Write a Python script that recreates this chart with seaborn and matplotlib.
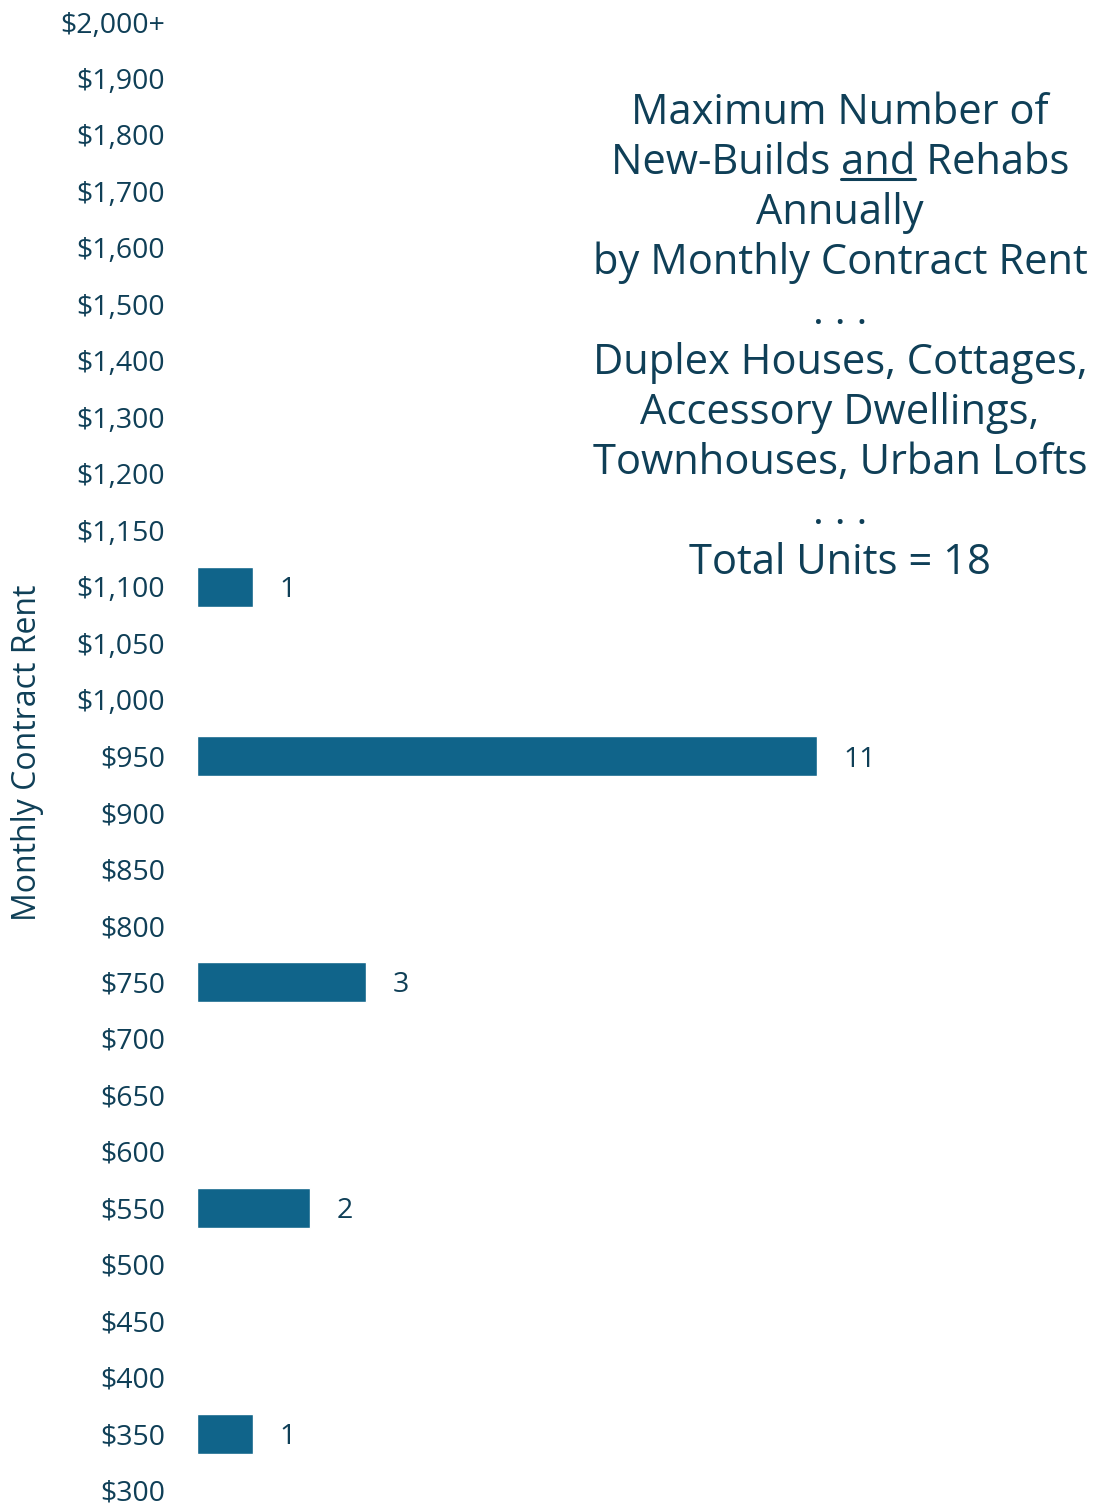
import matplotlib
matplotlib.use("Agg")
import matplotlib.pyplot as plt
import seaborn as sns
import pandas as pd

# rent bands, top to bottom
rents = ["$2,000+", "$1,900", "$1,800", "$1,700", "$1,600", "$1,500", "$1,400",
         "$1,300", "$1,200", "$1,150", "$1,100", "$1,050", "$1,000", "$950",
         "$900", "$850", "$800", "$750", "$700", "$650", "$600", "$550",
         "$500", "$450", "$400", "$350", "$300"]
units = [0, 0, 0, 0, 0, 0, 0,
         0, 0, 0, 1, 0, 0, 11,
         0, 0, 0, 3, 0, 0, 0, 2,
         0, 0, 0, 1, 0]

title_lines = ["Maximum Number of", "New-Builds and Rehabs", "Annually",
               "by Monthly Contract Rent", ". . .", "Duplex Houses, Cottages,",
               "Accessory Dwellings,", "Townhouses, Urban Lofts", ". . .",
               "Total Units = 18"]

BAR = "#10648a"
TXT = "#0f3f57"

sns.set_style("white")
plt.rcParams["font.family"] = ["Open Sans", "DejaVu Sans"]

df = pd.DataFrame({"Rent": rents, "Units": units})

fig = plt.figure(figsize=(10.96, 15.06), dpi=100)
ax = fig.add_axes([197 / 1096, 0, 1 - 197 / 1096, 1])

sns.barplot(data=df, x="Units", y="Rent", orient="h", color=BAR,
            saturation=1, width=0.71, ax=ax)

ax.set_xlim(0, 899 / 56.4)
ax.set_ylim(26.28, -0.39)
sns.despine(ax=ax, left=True, bottom=True)
ax.set_xticks([])
ax.set_xlabel("")
ax.set_ylabel("Monthly Contract Rent", fontsize=23, color=TXT, labelpad=12)
ax.tick_params(axis="y", length=0, pad=23, labelsize=20.5, labelcolor=TXT)

labels = [str(v) if v else "" for v in units]
anns = ax.bar_label(ax.containers[0], labels=labels, padding=19, fontsize=20.5,
                    color=TXT)
for a in anns:
    a.set_verticalalignment("center_baseline")

# title block on the right
cx = 840 / 1096
fs = 30
fig.canvas.draw()
renderer = fig.canvas.get_renderer()
for i, line in enumerate(title_lines):
    y = 1 - (113 + 50 * i) / 1506
    t = fig.text(cx, y, line, ha="center", va="center", fontsize=fs, color=TXT)
    if "and" in line.split():
        bb = t.get_window_extent(renderer)
        probe = fig.text(0, 0, "New-Builds and", fontsize=fs)
        w_all = probe.get_window_extent(renderer).width
        probe.set_text("and")
        w_and = probe.get_window_extent(renderer).width
        probe.remove()
        x1 = bb.x0 + w_all - w_and
        x2 = bb.x0 + w_all
        yl = bb.y0 + 5
        fig.add_artist(plt.Line2D([x1 / 1096, x2 / 1096], [yl / 1506, yl / 1506],
                                  transform=fig.transFigure, color=TXT, lw=2.2))

fig.savefig("out.png", dpi=100)
